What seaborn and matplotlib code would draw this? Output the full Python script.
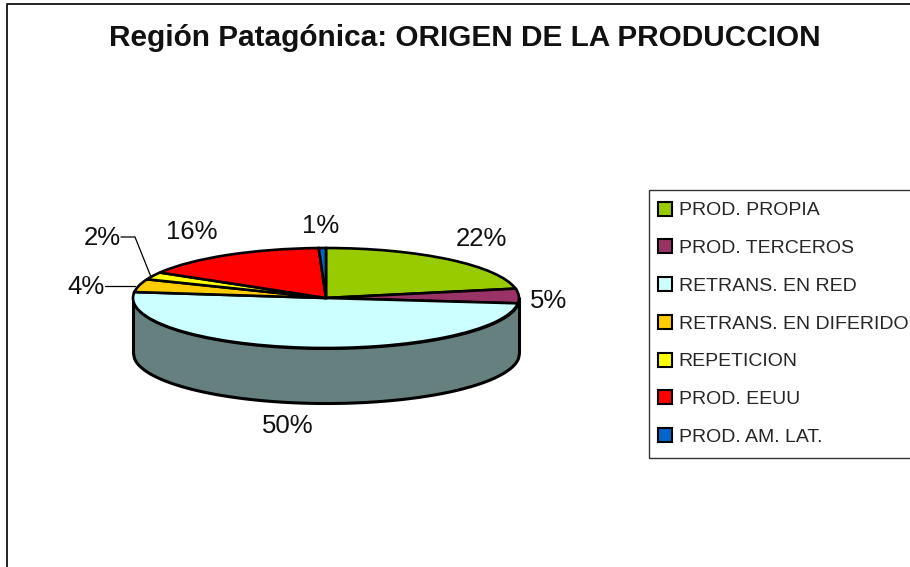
import numpy as np
import matplotlib
matplotlib.use("Agg")
import matplotlib.pyplot as plt
from matplotlib.lines import Line2D
import seaborn as sns

categories = ["PROD. PROPIA", "PROD. TERCEROS", "RETRANS. EN RED",
              "RETRANS. EN DIFERIDO", "REPETICION", "PROD. EEUU", "PROD. AM. LAT."]
values = [22.0, 4.7, 50.2, 4.2, 2.4, 15.9, 0.6]
slice_colors = ["#99CC00", "#993366", "#CCFFFF", "#FFCC00", "#FFFF00", "#FF0000", "#0066CC"]
wall_color = "#668080"
title_text = "Región Patagónica: ORIGEN DE LA PRODUCCION"

sns.set_theme(style="white")
plt.rcParams["font.family"] = ["Liberation Sans", "DejaVu Sans"]

W, H = 910, 567
CX, CY, RX, RY, DEPTH = 326, 298, 193, 50, 55

fig = plt.figure(figsize=(W / 100, H / 100), dpi=100, facecolor="white")
ax = fig.add_axes([0, 0, 1, 1])


def px(x, y):
    return (x - CX) / RX, (CY - y) / RY


# cylinder wall
t = np.linspace(-1, 1, 400)
low = -np.sqrt(1 - t ** 2)
ax.fill_between(t, low, low - DEPTH / RY, facecolor=wall_color, edgecolor="black",
                linewidth=2.2, zorder=1)

palette = sns.color_palette(slice_colors)
wedges, _ = ax.pie(values, colors=palette, startangle=90, counterclock=False,
                   wedgeprops=dict(edgecolor="black", linewidth=1.9, zorder=2))

ax.set_aspect("auto")
x0, _ = px(0, 0)
x1, _ = px(W, 0)
_, y0 = px(0, H)
_, y1 = px(0, 0)
ax.set_xlim(x0, x1)
ax.set_ylim(y0, y1)
ax.axis("off")

# percentage labels
label_centers = [(481, 239), (549, 301), (288, 426), (86, 287), (102, 238), (192, 232), (321, 226)]
for v, (lx, ly) in zip(values, label_centers):
    ax.text(*px(lx, ly), f"{v:.0f}%", fontsize=18.5, color="#111111", ha="center", va="center", zorder=5)

# leader lines
for xs, ys in [((121, 135, 151), (237, 237, 277)), ((105, 135), (286, 286))]:
    pts = [px(a, b) for a, b in zip(xs, ys)]
    ax.plot(*zip(*pts), color="black", lw=0.9, zorder=1.5)

fig.text(465 / W, 1 - 38 / H, title_text, fontsize=21.4, fontweight="bold",
         color="#111111", ha="center", va="center")

# legend
leg = fig.legend(wedges, categories, loc="upper left",
                 bbox_to_anchor=(649 / W, 1 - 190 / H), borderaxespad=0,
                 fontsize=14, frameon=True, fancybox=False, edgecolor="#333333",
                 framealpha=1, handlelength=0.72, handleheight=0.72, handletextpad=0.2,
                 labelspacing=1.03, borderpad=0.6)
leg.get_frame().set_linewidth(1.0)
for h in leg.get_patches():
    h.set_linewidth(1.5)
    h.set_edgecolor("black")
    h.set_x(h.get_x() - 1.6)

# chart-area border: left and top only are inside the picture
fig.add_artist(Line2D([7 / W, 7 / W, 1], [0, 1 - 4 / H, 1 - 4 / H], color="#222222", lw=1.4))

fig.savefig("out.png", dpi=100, facecolor="white")
